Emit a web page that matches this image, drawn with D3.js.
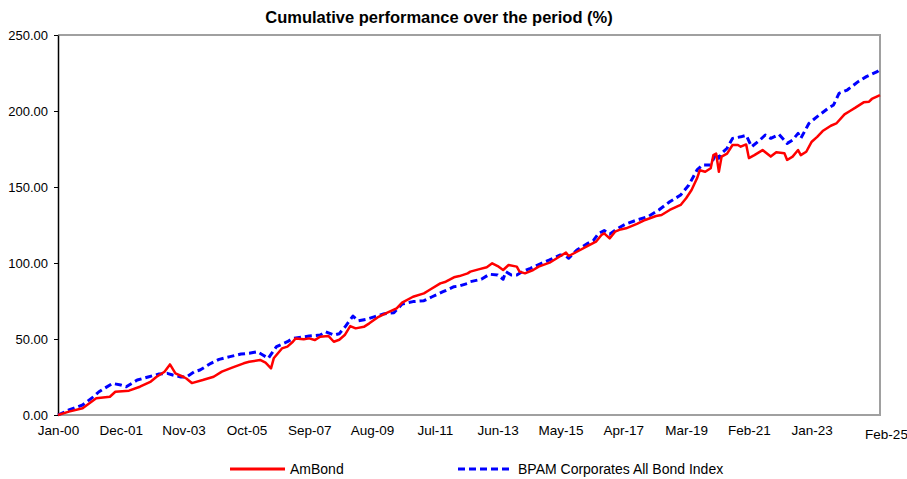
<!DOCTYPE html>
<html>
<head>
<meta charset="utf-8">
<script src="https://cdn.jsdelivr.net/npm/d3@7"></script>
<style>
  html, body { margin: 0; padding: 0; background: #fff; }
  svg { display: block; font-family: "Liberation Sans", Arial, sans-serif; }
</style>
</head>
<body>
<svg id="chart" width="907" height="479"></svg>
<script>
// ---- Data (month index: 0 = Jan-00, 301 = Feb-25) ----
const tickMonths = [0, 23, 46, 69, 92, 115, 138, 161, 184, 207, 230, 253, 276, 301];
const tickLabels = ["Jan-00","Dec-01","Nov-03","Oct-05","Sep-07","Aug-09","Jul-11","Jun-13","May-15","Apr-17","Mar-19","Feb-21","Jan-23","Feb-25"];
const yTicks = [0, 50, 100, 150, 200, 250];

const ambondMonths = [0,4,9,14,19,21,26,30,34,36,39,41,43,46,47,49,53,57,60,64,68,70,74,76,78,79,81,82,84,86,87,90,92,94,96,99,101,103,105,107,109,112,114,117,120,124,126,130,134,136,140,142,145,147,150,151,154,157,159,161,163,165,168,169,171,174,176,180,184,186,187,190,194,197,199,200,202,204,206,208,212,215,219,221,224,228,230,232,234,235,237,239,240,241,242,243,245,247,249,250,252,253,255,258,261,263,266,267,269,271,272,274,276,278,280,283,285,288,290,292,295,297,298,301];
const ambondValues = [0,2.2,4.4,11,12,15.3,16,18.6,22,25,28.5,33.3,27.4,25,24,21,23,25.2,28.5,31.3,34,35,36.2,34.4,30.7,37.3,41.6,43.8,45,48.2,50.4,49.8,50.4,49.3,51.5,52,48.2,49.5,52.6,58.5,57,58,60.3,64.2,66.8,70.2,73.9,77.8,80,82.2,86.6,87.7,90.6,91.4,93.2,94.3,95.8,97.2,99.8,98,95.4,98.7,97.6,94.3,93.2,95.4,97.6,100.2,104.6,106.8,104.6,107.4,111.2,114,118.4,119.5,116.2,120.6,122.1,122.8,125.7,128.3,130.9,131.6,134.9,138.2,142.6,148,155.7,161,160,162.3,171,172,160,170,172,177.6,177.6,176.5,178,169,171,174.3,170,172.8,172.2,167.8,170,174.3,171,173.2,179.8,183,186.8,190.3,191.8,197.8,200,202.2,205.7,206.1,207.9,210.5];

const bpamMonths = [0,4,9,13,15,20,23,25,29,33,37,40,42,45,47,50,52,56,59,63,67,70,73,75,77,80,84,86,89,92,96,98,101,103,105,108,110,113,116,119,123,126,130,134,137,141,145,147,150,151,155,158,161,163,164,166,168,170,173,177,180,184,186,187,190,194,196,198,200,202,205,208,212,216,220,224,228,231,234,236,239,241,242,243,245,247,250,252,254,257,259,261,264,267,269,271,272,275,278,282,284,286,289,293,296,300,301];
const bpamValues = [0,3.3,6.6,12,15.3,20.8,19.7,18.6,23,25,27,27.4,26.3,25,25,28.5,29.6,34,36.6,38.4,40.1,40.6,41.6,39.5,37.3,45,48.2,50.4,51.1,52,52.6,54.8,52.6,53.5,57.7,65.1,62,63,64.7,66.4,67.3,73,74.6,75.2,77.8,81.1,84.4,84.9,86.6,87.7,89.3,92.6,92.1,89.3,94.3,92.1,92.1,94.3,96.5,99.8,102,105.3,104.6,103.1,108.6,112.9,114.7,119.5,121.3,119,122.8,125.7,128.3,130.5,134.9,140.3,144.7,151.3,161.2,164.5,164.5,172.2,168.9,172.2,175.5,182,183,184,176.5,180.9,184.2,182,184.6,178.7,180.9,185.3,182,191.9,196.3,201.8,204,211.6,213.8,219.3,222.6,225.9,227.6];

const seriesNames = ["AmBond", "BPAM Corporates All Bond Index"];

// ---- Layout ----
const svg = d3.select("#chart");
const L = 58, R = 880, T = 35, B = 415;

const x = d3.scaleLinear().domain([0, 301]).range([L, R]);
const y = d3.scaleLinear().domain([0, 250]).range([B, T]);

// Title
svg.append("text")
  .attr("x", 439).attr("y", 23)
  .attr("text-anchor", "middle")
  .attr("font-size", 16.5).attr("font-weight", "bold")
  .text("Cumulative performance over the period (%)");

// Frame (gray) top/right/bottom
svg.append("path")
  .attr("d", `M${L},${T}H${R}V${B}H${L}`)
  .attr("fill", "none").attr("stroke", "#a0a0a0").attr("stroke-width", 2);

// Y axis
const yAxis = svg.append("g")
  .attr("transform", `translate(${L},0)`)
  .call(d3.axisLeft(y).tickValues(yTicks).tickFormat(d3.format(".2f")).tickSize(4).tickSizeOuter(0).tickPadding(6));
yAxis.select(".domain").attr("stroke", "#000").attr("stroke-width", 1.5);
yAxis.selectAll(".tick line").attr("stroke", "#000");
yAxis.selectAll("text").attr("font-size", 13).attr("font-family", "Liberation Sans, Arial, sans-serif").attr("fill", "#000");

// X axis
const xAxis = svg.append("g")
  .attr("transform", `translate(0,${B})`)
  .call(d3.axisBottom(x).tickValues(tickMonths).tickFormat((d, i) => tickLabels[i]).tickSize(0).tickPadding(10));
xAxis.select(".domain").remove();
xAxis.selectAll("text").attr("font-size", 13.5).attr("font-family", "Liberation Sans, Arial, sans-serif").attr("fill", "#000");
xAxis.selectAll(".tick").filter(d => d === 301)
  .select("text").attr("dx", 6).attr("dy", "1.0em");

// Lines
const line = d3.line().x(d => x(d[0])).y(d => y(d[1]));
const ambond = d3.zip(ambondMonths, ambondValues);
const bpam = d3.zip(bpamMonths, bpamValues);

svg.append("path").datum(bpam)
  .attr("d", line).attr("fill", "none")
  .attr("stroke", "#0000ff").attr("stroke-width", 3)
  .attr("stroke-dasharray", "7,4").attr("stroke-linejoin", "round");

svg.append("path").datum(ambond)
  .attr("d", line).attr("fill", "none")
  .attr("stroke", "#ff0000").attr("stroke-width", 2.5)
  .attr("stroke-linejoin", "round");

// Legend
const legend = svg.append("g").attr("font-size", 14);
legend.append("line").attr("x1", 230).attr("x2", 285).attr("y1", 469).attr("y2", 469)
  .attr("stroke", "#ff0000").attr("stroke-width", 3);
legend.append("text").attr("x", 290).attr("y", 474).text(seriesNames[0]);
legend.append("line").attr("x1", 458).attr("x2", 513).attr("y1", 469).attr("y2", 469)
  .attr("stroke", "#0000ff").attr("stroke-width", 3).attr("stroke-dasharray", "7,4");
legend.append("text").attr("x", 518).attr("y", 474).text(seriesNames[1]);
</script>
</body>
</html>
